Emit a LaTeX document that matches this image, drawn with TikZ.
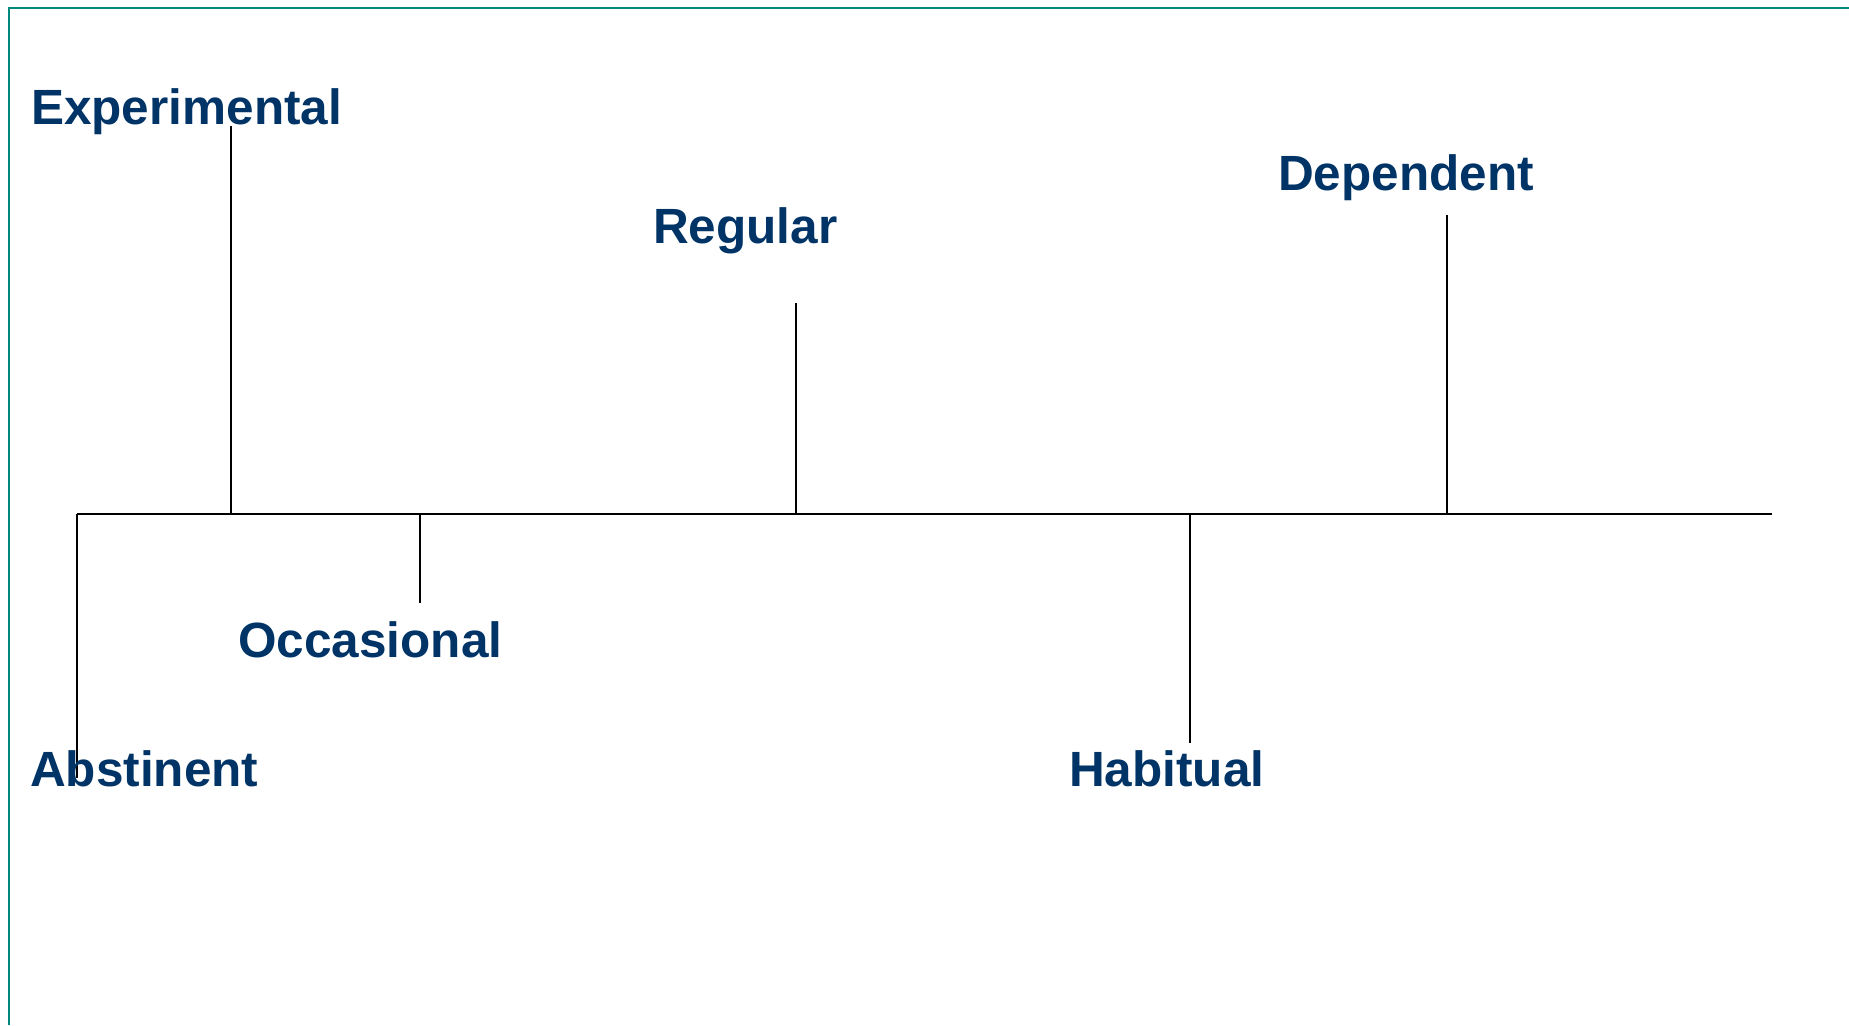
\documentclass[tikz,border=0pt]{standalone}
\usepackage{fontspec}
\setmainfont{Liberation Sans}
\definecolor{labelnavy}{RGB}{0,51,102}
\definecolor{frameteal}{RGB}{0,136,128}

\begin{document}
\begin{tikzpicture}[x=1pt, y=-1pt, line cap=butt, line join=miter,
  stage/.style={anchor=base west, inner sep=0pt, text=labelnavy,
    font=\fontsize{49.5}{58}\selectfont\bfseries},
  tick/.style={line width=2pt, black}]

\useasboundingbox (0,0) rectangle (1849,1025);

% Frame along the top and left edge
\draw[frameteal, line width=2pt] (9,1025) -- (9,8) -- (1849,8);

% Define coordinates on the axis
\coordinate (L) at (77,514);
\coordinate (R) at (1772,514);
\coordinate (Aab) at (77,514);
\coordinate (Aex) at (231,514);
\coordinate (Aoc) at (420,514);
\coordinate (Are) at (796,514);
\coordinate (Aha) at (1190,514);
\coordinate (Ade) at (1447,514);

% Define the free ends of the ticks
\coordinate (Tab) at (77,778);
\coordinate (Tex) at (231,126);
\coordinate (Toc) at (420,603);
\coordinate (Tre) at (796,303);
\coordinate (Tha) at (1190,743);
\coordinate (Tde) at (1447,215);

% The axis
\draw[line width=2.6pt] (L) -- (R);

% The ticks
\draw[tick] (Aab) -- (Tab);   % down to Abstinent
\draw[tick] (Aex) -- (Tex);   % up to Experimental
\draw[tick] (Aoc) -- (Toc);   % down to Occasional
\draw[tick] (Are) -- (Tre);   % up to Regular
\draw[tick] (Aha) -- (Tha);   % down to Habitual
\draw[tick] (Ade) -- (Tde);   % up to Dependent

% Label the stages
\node[stage] (experimental) at (31,124) {Experimental};
\node[stage] (regular) at (653,243) {Regular};
\node[stage] (dependent) at (1278,190) {Dependent};
\node[stage] (occasional) at (238,657) {Occasional};
\node[stage] (habitual) at (1069,786) {Habitual};
\node[stage] (abstinent) at (30,786) {Abstinent};

\end{tikzpicture}
\end{document}
